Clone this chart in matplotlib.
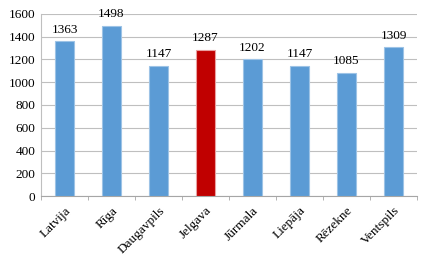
import matplotlib.pyplot as plt
import numpy as np

cities = ["Latvija", "Rīga", "Daugavpils", "Jelgava", "Jūrmala", "Liepāja", "Rēzekne", "Ventspils"]
values = [1363, 1498, 1147, 1287, 1202, 1147, 1085, 1309]
highlight = "Jelgava"

plt.rcParams["font.family"] = ["Liberation Serif", "DejaVu Serif"]
plt.rcParams["font.size"] = 9.5

fig = plt.figure(figsize=(4.3, 2.59), dpi=100)
ax = fig.add_axes([0.0953, 0.2432, 0.8745, 0.7028])

x = np.arange(len(cities))
colors = ["#C00000" if c == highlight else "#5B9BD5" for c in cities]
edges = ["#E8A0A0" if c == highlight else "#9DC3E6" for c in cities]
ax.bar(x, values, width=0.4, color=colors, edgecolor=edges, linewidth=0.8, zorder=3)

for xi, v in zip(x, values):
    ax.text(xi, v + 45, str(v), ha="center", va="bottom", fontsize=9.5)

ax.set_xlim(-0.5, len(cities) - 0.5)
ax.set_ylim(0, 1600)
ax.set_yticks(range(0, 1601, 200))
ax.yaxis.grid(True, color="#BFBFBF", linewidth=0.8, zorder=0)
ax.tick_params(axis="y", length=0, pad=4)

ax.set_xticks(x)
ax.set_xticklabels(cities, rotation=45, ha="right", rotation_mode="anchor")
ax.set_xticks(np.arange(-0.5, len(cities)), minor=True)
ax.tick_params(axis="x", which="major", length=0, pad=6)
ax.tick_params(axis="x", which="minor", length=3, color="#A6A6A6")

for s in ["top", "right"]:
    ax.spines[s].set_visible(False)
ax.spines["left"].set_color("#BFBFBF")
ax.spines["bottom"].set_color("#A6A6A6")

fig.savefig("out.png", dpi=100)
